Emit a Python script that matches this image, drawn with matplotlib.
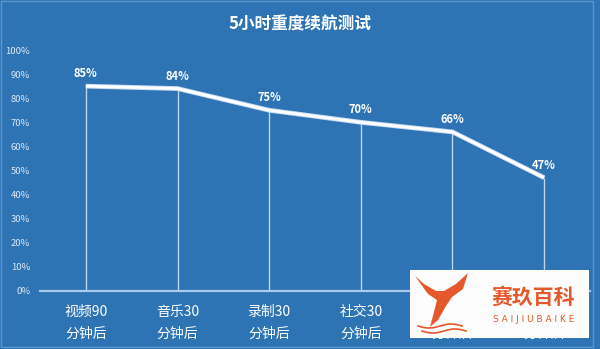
import matplotlib
matplotlib.use("Agg")
import matplotlib.pyplot as plt
from matplotlib.patches import Rectangle, Polygon
import numpy as np

plt.rcParams['font.family'] = ['Noto Sans CJK SC', 'DejaVu Sans']

title = "5小时重度续航测试"
categories = ["视频90\n分钟后", "音乐30\n分钟后", "录制30\n分钟后", "社交30\n分钟后", "游戏60\n分钟后", "导航60\n分钟后"]
values = [85, 84, 75, 70, 66, 47]
yticks = [0, 10, 20, 30, 40, 50, 60, 70, 80, 90, 100]
wm_cn = "赛玖百科"
wm_en = "SAIJIUBAIKE"

BG = "#2E74B5"
W, H = 600, 349
fig = plt.figure(figsize=(6, 3.49), dpi=100, facecolor=BG)

def fx(px):
    return px / W

def fy(py):
    return 1 - py / H

ax = fig.add_axes([fx(40), fy(291), fx(590) - fx(40), fy(50) - fy(291)])
ax.set_facecolor(BG)
x = np.arange(len(values))
ax.set_xlim(-0.5, len(values) - 0.5)
ax.set_ylim(0, 100)

for s in ["top", "right", "left"]:
    ax.spines[s].set_visible(False)
ax.spines["bottom"].set_color("#A9CBEA")
ax.spines["bottom"].set_linewidth(1.6)

# drop lines
ax.vlines(x, 0, values, colors="#BCD4EE", linewidth=1.0, zorder=2)
# main line
ax.plot(x, values, color="#C9DDF2", linewidth=3.4, solid_capstyle="butt", solid_joinstyle="round", zorder=3)
ax.plot(x, values, color="white", linewidth=2.0, solid_capstyle="butt", solid_joinstyle="round", zorder=4)

for xi, v in zip(x, values):
    ax.annotate(f"{v}%", (xi, v), xytext=(0, 9), textcoords="offset points",
                ha="center", va="center", color="white", fontsize=8, fontweight="bold", zorder=5)

ax.set_yticks(yticks)
ax.set_yticklabels([f"{t}%" for t in yticks], color="#DCE8F5", fontsize=6.8)
ax.tick_params(axis="y", length=0, pad=7)
ax.set_xticks(x)
ax.set_xticklabels(categories, color="white", fontsize=10, linespacing=1.75)
ax.tick_params(axis="x", length=0, pad=10)

fig.text(0.5, fy(25), title, ha="center", va="center", color="white", fontsize=12, fontweight="bold")

# thin frame
fig.patches.append(Rectangle((fx(1), fy(347)), fx(593) - fx(1), fy(1) - fy(347),
                             transform=fig.transFigure, fill=False, edgecolor="#5B95CC", linewidth=1.0))

# watermark
fig.patches.append(Rectangle((fx(410), fy(338)), fx(589) - fx(410), fy(270) - fy(338),
                             transform=fig.transFigure, facecolor="#FDFDFD", edgecolor="none", zorder=10))
OR = "#E5582B"
tail = [(415, 276), (424, 284), (436, 291), (444, 291), (456, 284), (468, 273),
        (463, 289), (452, 297), (446, 306), (438, 320), (430, 327), (434, 312),
        (437, 300), (428, 294)]
fig.patches.append(Polygon([(fx(a), fy(b)) for a, b in tail], closed=True, transform=fig.transFigure,
                           facecolor=OR, edgecolor="none", zorder=11))
for yb, x0, x1 in [(326, 418, 462), (331, 422, 466)]:
    xs = np.linspace(x0, x1, 30)
    ys = yb + 2.0 * np.sin((xs - x0) / (x1 - x0) * 2 * np.pi)
    fig.add_artist(plt.Line2D([fx(a) for a in xs], [fy(b) for b in ys], transform=fig.transFigure,
                              color=OR, linewidth=1.2, zorder=11))
fig.text(fx(533), fy(297), wm_cn, ha="center", va="center", color=OR, fontsize=15,
         fontweight="bold", zorder=12)
fig.text(fx(534), fy(320), " ".join(wm_en), ha="center", va="center", color=OR, fontsize=6.5,
         family="DejaVu Sans", zorder=12)

fig.savefig("out.png", dpi=100, facecolor=BG)
